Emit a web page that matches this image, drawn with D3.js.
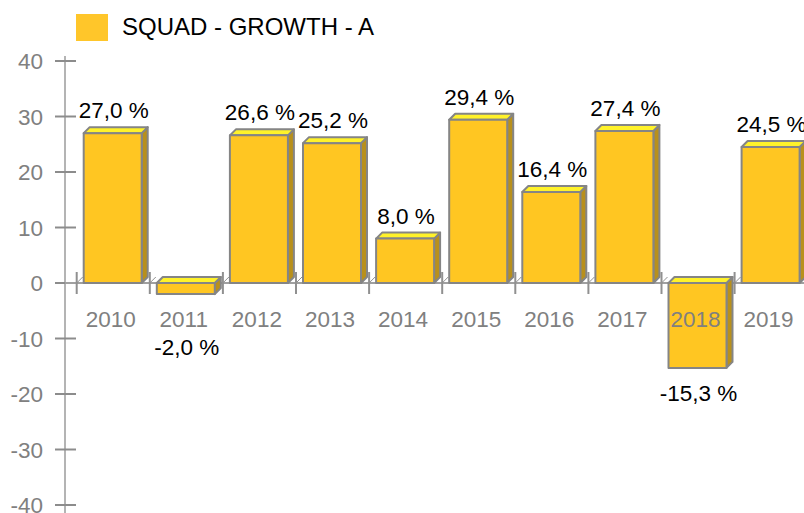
<!DOCTYPE html>
<html><head><meta charset="utf-8">
<script src="https://cdn.jsdelivr.net/npm/d3@7"></script>
<style>body{margin:0;background:#fff}svg{display:block}text{font-family:"Liberation Sans",Arial,sans-serif}</style>
</head><body>
<script>
const categories = ["2010","2011","2012","2013","2014","2015","2016","2017","2018","2019"];
const values = [27.0, -2.0, 26.6, 25.2, 8.0, 29.4, 16.4, 27.4, -15.3, 24.5];
const valueLabels = ["27,0 %","-2,0 %","26,6 %","25,2 %","8,0 %","29,4 %","16,4 %","27,4 %","-15,3 %","24,5 %"];
const yTicks = [40,30,20,10,0,-10,-20,-30,-40];
const seriesName = "SQUAD - GROWTH - A";

const W = 804, H = 513;
const FS = 22.5;
const svg = d3.select("body").append("svg").attr("width", W).attr("height", H);
const y = d3.scaleLinear().domain([-40, 40]).range([505, 61]);
const x = d3.scaleBand().domain(categories).range([76.7, 76.7 + 73.1*10]);
const D = 6, barW = 58, off = 7;

// legend
svg.append("rect").attr("x",76).attr("y",14).attr("width",32).attr("height",27).attr("fill","#FFC62A");
svg.append("text").attr("x",122).attr("y",35).attr("font-size",24).attr("fill","#000").text(seriesName);

// y axis
svg.append("line").attr("x1",65).attr("x2",65).attr("y1",56).attr("y2",513).attr("stroke","#b4b4b4").attr("stroke-width",2);
const yt = svg.append("g");
yTicks.forEach(t => {
  yt.append("line").attr("x1",55).attr("x2",76).attr("y1",y(t)).attr("y2",y(t)).attr("stroke","#8c8c8c").attr("stroke-width",2);
  yt.append("text").attr("x",43).attr("y",y(t)+8).attr("text-anchor","end").attr("font-size",FS).attr("fill","#808080").text(t);
});

// x axis
const y0 = y(0);
svg.append("line").attr("x1",65).attr("x2",W).attr("y1",y0).attr("y2",y0).attr("stroke","#a0a0a0").attr("stroke-width",2);
const bounds = categories.map(c => x(c)).concat([x(categories[categories.length-1]) + x.bandwidth()]);
bounds.forEach(b => {
  svg.append("line").attr("x1",b).attr("x2",b).attr("y1",y0-11).attr("y2",y0+11).attr("stroke","#909090").attr("stroke-width",2);
  svg.append("line").attr("x1",b).attr("x2",b+D).attr("y1",y0).attr("y2",y0-D).attr("stroke","#909090").attr("stroke-width",1);
});

// bars
const g = svg.append("g");
categories.forEach((c, i) => {
  const v = values[i];
  const bx = x(c) + off;
  const top = Math.min(y(v), y0), bot = Math.max(y(v), y0);
  const st = {stroke:"#858585","stroke-width":2,"stroke-linejoin":"round"};
  const side = g.append("polygon").attr("points", [[bx+barW,top],[bx+barW+D,top-D],[bx+barW+D,bot-D],[bx+barW,bot]].join(" ")).attr("fill","#B8901C");
  const topF = g.append("polygon").attr("points", [[bx,top],[bx+D,top-D],[bx+barW+D,top-D],[bx+barW,top]].join(" ")).attr("fill","#FFF22A");
  const front = g.append("rect").attr("x",bx).attr("y",top).attr("width",barW).attr("height",bot-top).attr("fill","#FFC622");
  [side, topF, front].forEach(s => Object.entries(st).forEach(([k,val]) => s.attr(k,val)));
});

// x labels
categories.forEach(c => {
  svg.append("text").attr("x", x(c) + off + barW/2 - 2).attr("y", 327).attr("text-anchor","middle").attr("font-size",FS).attr("fill","#808080").text(c);
});

// value labels
categories.forEach((c, i) => {
  const v = values[i];
  const cx = x(c) + off + barW/2 + 1;
  let ty;
  if (v >= 0) ty = y(v) - D - 9;
  else ty = Math.max(y(v), 322) + 33;
  svg.append("text").attr("x", cx).attr("y", ty).attr("text-anchor","middle").attr("font-size",FS).attr("fill","#000").text(valueLabels[i]);
});
</script>
</body></html>
